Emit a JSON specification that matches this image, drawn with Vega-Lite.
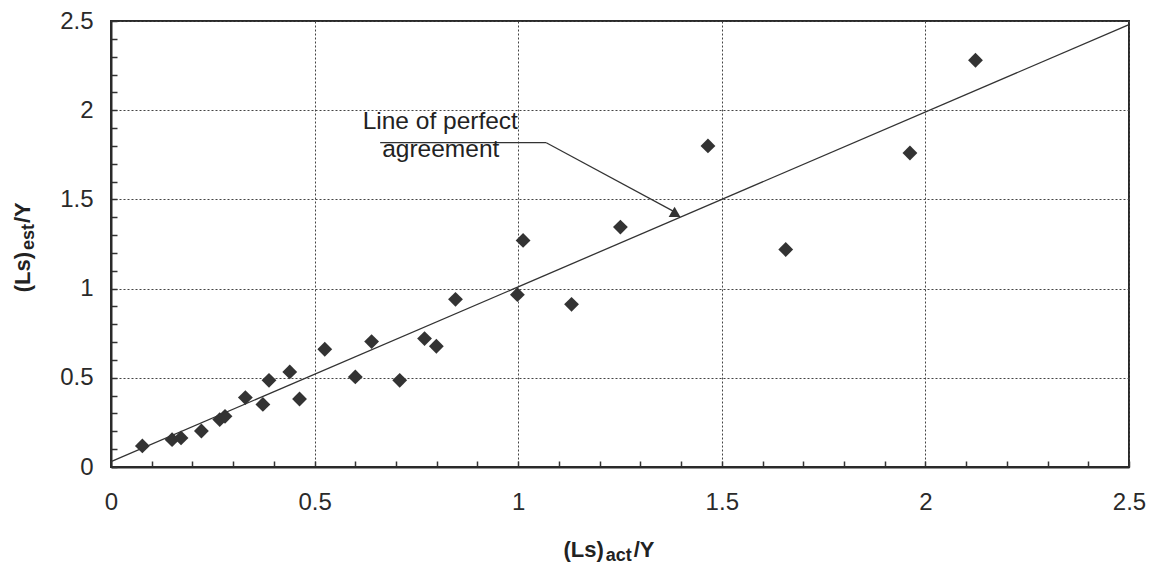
{
  "$schema": "https://vega.github.io/schema/vega-lite/v6.json",
  "width": 1018,
  "height": 446,
  "autosize": {"type": "none"},
  "padding": {"left": 111, "top": 21, "right": 30, "bottom": 97},
  "background": "white",
  "config": {
    "view": {"stroke": "#2a2a2a", "strokeWidth": 2},
    "font": "Liberation Sans",
    "axis": {
      "domainColor": "#2a2a2a",
      "domainWidth": 2,
      "tickColor": "#333",
      "tickWidth": 1.5,
      "tickSize": -6,
      "tickCount": 40,
      "gridColor": "#444",
      "gridDash": [2, 2],
      "gridWidth": 1,
      "labelFont": "Liberation Sans",
      "labelFontSize": 24,
      "labelColor": "#2a2a2a",
      "labelFlush": false,
      "labelOverlap": false
    }
  },
  "layer": [
    {
      "data": {"values": [
        {"act": 0.077, "est": 0.118},
        {"act": 0.150, "est": 0.153},
        {"act": 0.172, "est": 0.163},
        {"act": 0.222, "est": 0.202},
        {"act": 0.267, "est": 0.266},
        {"act": 0.280, "est": 0.284},
        {"act": 0.330, "est": 0.389},
        {"act": 0.373, "est": 0.351},
        {"act": 0.388, "est": 0.486},
        {"act": 0.439, "est": 0.533},
        {"act": 0.463, "est": 0.381},
        {"act": 0.525, "est": 0.660},
        {"act": 0.600, "est": 0.505},
        {"act": 0.640, "est": 0.703},
        {"act": 0.709, "est": 0.486},
        {"act": 0.770, "est": 0.720},
        {"act": 0.799, "est": 0.677},
        {"act": 0.846, "est": 0.940},
        {"act": 0.998, "est": 0.966},
        {"act": 1.131, "est": 0.912},
        {"act": 1.012, "est": 1.270},
        {"act": 1.251, "est": 1.345},
        {"act": 1.466, "est": 1.800},
        {"act": 1.657, "est": 1.219},
        {"act": 1.962, "est": 1.760},
        {"act": 2.123, "est": 2.280}
      ]},
      "mark": {"type": "point", "shape": "diamond", "filled": true, "size": 220, "color": "#333", "opacity": 1},
      "encoding": {
        "x": {
          "field": "act", "type": "quantitative",
          "scale": {"domain": [0, 2.5], "nice": false, "zero": false},
          "axis": {
            "title": null,
            "values": [0, 0.1, 0.2, 0.3, 0.4, 0.5, 0.6, 0.7, 0.8, 0.9, 1, 1.1, 1.2, 1.3, 1.4, 1.5, 1.6, 1.7, 1.8, 1.9, 2, 2.1, 2.2, 2.3, 2.4, 2.5],
            "labelExpr": "abs(datum.value * 2 - round(datum.value * 2)) < 0.001 ? format(datum.value, '~g') : ''",
            "gridOpacity": {"condition": {"test": "abs(datum.value * 2 - round(datum.value * 2)) < 0.001", "value": 1}, "value": 0},
            "labelPadding": 29
          }
        },
        "y": {
          "field": "est", "type": "quantitative",
          "scale": {"domain": [0, 2.5], "nice": false, "zero": false},
          "axis": {
            "title": null,
            "values": [0, 0.1, 0.2, 0.3, 0.4, 0.5, 0.6, 0.7, 0.8, 0.9, 1, 1.1, 1.2, 1.3, 1.4, 1.5, 1.6, 1.7, 1.8, 1.9, 2, 2.1, 2.2, 2.3, 2.4, 2.5],
            "labelExpr": "abs(datum.value * 2 - round(datum.value * 2)) < 0.001 ? format(datum.value, '~g') : ''",
            "gridOpacity": {"condition": {"test": "abs(datum.value * 2 - round(datum.value * 2)) < 0.001", "value": 1}, "value": 0},
            "labelPadding": 24
          }
        }
      }
    },
    {
      "data": {"values": [{}]},
      "mark": {"type": "rule", "color": "#333", "strokeWidth": 1.3},
      "encoding": {
        "x": {"datum": 0, "type": "quantitative"},
        "y": {"datum": 0.03, "type": "quantitative"},
        "x2": {"datum": 2.5},
        "y2": {"datum": 2.48}
      }
    },
    {
      "data": {"values": [{}]},
      "mark": {"type": "rule", "color": "#333", "strokeWidth": 1.2},
      "encoding": {
        "x": {"datum": 0.661, "type": "quantitative"},
        "y": {"datum": 1.818, "type": "quantitative"},
        "x2": {"datum": 1.069},
        "y2": {"datum": 1.818}
      }
    },
    {
      "data": {"values": [{}]},
      "mark": {"type": "rule", "color": "#333", "strokeWidth": 1.2},
      "encoding": {
        "x": {"datum": 1.069, "type": "quantitative"},
        "y": {"datum": 1.818, "type": "quantitative"},
        "x2": {"datum": 1.384},
        "y2": {"datum": 1.43}
      }
    },
    {
      "data": {"values": [{}]},
      "mark": {"type": "point", "shape": "triangle-up", "filled": true, "size": 140, "color": "#333", "opacity": 1},
      "encoding": {
        "x": {"datum": 1.384, "type": "quantitative"},
        "y": {"datum": 1.43, "type": "quantitative"}
      }
    },
    {
      "data": {"values": [{}]},
      "mark": {"type": "text", "text": "Line of perfect", "align": "left", "baseline": "alphabetic", "fontSize": 24.5, "color": "#222"},
      "encoding": {
        "x": {"datum": 0.618, "type": "quantitative"},
        "y": {"datum": 1.897, "type": "quantitative"}
      }
    },
    {
      "data": {"values": [{}]},
      "mark": {"type": "text", "text": "agreement", "align": "left", "baseline": "alphabetic", "fontSize": 24.5, "color": "#222"},
      "encoding": {
        "x": {"datum": 0.666, "type": "quantitative"},
        "y": {"datum": 1.738, "type": "quantitative"}
      }
    },
    {
      "data": {"values": [{}]},
      "mark": {"type": "text", "text": "(Ls)", "align": "right", "baseline": "alphabetic", "fontSize": 22, "fontWeight": "bold", "color": "#222"},
      "encoding": {
        "x": {"datum": 1.21, "type": "quantitative"},
        "y": {"datum": -0.504, "type": "quantitative"}
      }
    },
    {
      "data": {"values": [{}]},
      "mark": {"type": "text", "text": "act", "align": "left", "baseline": "alphabetic", "fontSize": 18, "fontWeight": "bold", "color": "#222", "dx": 2, "dy": 4},
      "encoding": {
        "x": {"datum": 1.21, "type": "quantitative"},
        "y": {"datum": -0.504, "type": "quantitative"}
      }
    },
    {
      "data": {"values": [{}]},
      "mark": {"type": "text", "text": "/Y", "align": "left", "baseline": "alphabetic", "fontSize": 22, "fontWeight": "bold", "color": "#222", "dx": 30},
      "encoding": {
        "x": {"datum": 1.21, "type": "quantitative"},
        "y": {"datum": -0.504, "type": "quantitative"}
      }
    },
    {
      "data": {"values": [{}]},
      "mark": {"type": "text", "text": "(Ls)", "angle": 270, "align": "right", "baseline": "alphabetic", "fontSize": 22, "fontWeight": "bold", "color": "#222"},
      "encoding": {
        "x": {"datum": -0.1985, "type": "quantitative"},
        "y": {"datum": 1.205, "type": "quantitative"}
      }
    },
    {
      "data": {"values": [{}]},
      "mark": {"type": "text", "text": "est", "angle": 270, "align": "left", "baseline": "alphabetic", "fontSize": 18, "fontWeight": "bold", "color": "#222", "dx": 2, "dy": 4},
      "encoding": {
        "x": {"datum": -0.1985, "type": "quantitative"},
        "y": {"datum": 1.205, "type": "quantitative"}
      }
    },
    {
      "data": {"values": [{}]},
      "mark": {"type": "text", "text": "/Y", "angle": 270, "align": "left", "baseline": "alphabetic", "fontSize": 22, "fontWeight": "bold", "color": "#222", "dx": 29},
      "encoding": {
        "x": {"datum": -0.1985, "type": "quantitative"},
        "y": {"datum": 1.205, "type": "quantitative"}
      }
    }
  ]
}
